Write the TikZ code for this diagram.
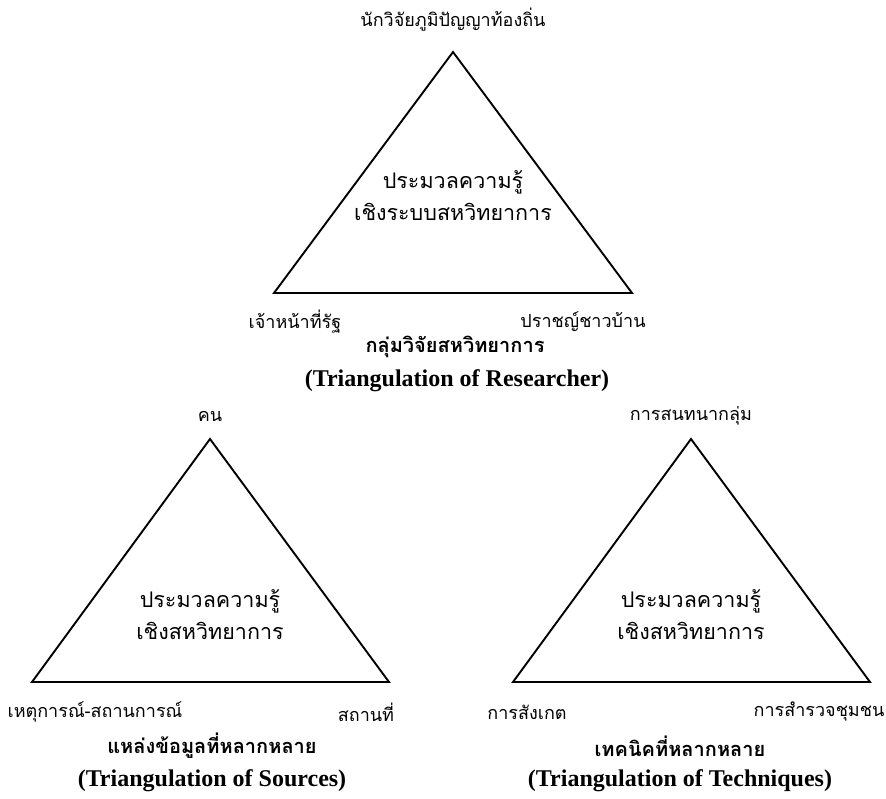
\documentclass[tikz,border=0pt]{standalone}
\usepackage{fontspec}
\setmainfont{Liberation Serif}
\newfontfamily\thaifont[Script=Thai]{Loma}
\usepackage{tikz}

\begin{document}
\begin{tikzpicture}[x=1pt, y=-1pt,
    corner/.style={font=\thaifont\fontsize{18}{22}\selectfont, inner sep=0pt},
    core/.style={font=\thaifont\fontsize{21.5}{32}\selectfont, align=center, inner sep=0pt},
    title/.style={font=\bfseries\fontsize{24}{30}\selectfont, align=center, inner sep=0pt},
    thaititle/.style={font=\thaifont\bfseries\fontsize{20}{24}\selectfont, inner sep=0pt},
    tri/.style={line width=1.9pt, line join=miter}]
    \useasboundingbox (0,0) rectangle (886,798);

    \coordinate (rtop) at (453,52);
    \coordinate (rleft) at (274,293);
    \coordinate (rright) at (632,293);
    \coordinate (stop) at (210,439);
    \coordinate (sleft) at (32,682);
    \coordinate (sright) at (389,682);
    \coordinate (ttop) at (691,439);
    \coordinate (tleft) at (513,682);
    \coordinate (tright) at (870,682);

    \draw[tri] (rtop) -- (rleft) -- (rright) -- cycle;
    \draw[tri] (stop) -- (sleft) -- (sright) -- cycle;
    \draw[tri] (ttop) -- (tleft) -- (tright) -- cycle;

    \node[corner] (rlocal) at (453,20) {นักวิจัยภูมิปัญญาท้องถิ่น};
    \node[corner] (rstate) at (295,322) {เจ้าหน้าที่รัฐ};
    \node[corner] (rsage) at (583,322) {ปราชญ์ชาวบ้าน};
    \node[core] (rcore) at (453,196) {ประมวลความรู้\\เชิงระบบสหวิทยาการ};
    \node[thaititle] (rgroup) at (455,347) {กลุ่มวิจัยสหวิทยาการ};
    \node[title] (rtitle) at (457,381) {(Triangulation of Researcher)};

    \node[corner] (speople) at (210,416) {คน};
    \node[corner] (sevent) at (95,712) {เหตุการณ์-สถานการณ์};
    \node[corner] (splace) at (366,712) {สถานที่};
    \node[core] (score) at (210,615) {ประมวลความรู้\\เชิงสหวิทยาการ};
    \node[thaititle] (sgroup) at (212,746) {แหล่งข้อมูลที่หลากหลาย};
    \node[title] (stitle) at (212,781) {(Triangulation of Sources)};

    \node[corner] (tgroup) at (691,416) {การสนทนากลุ่ม};
    \node[corner] (tobserve) at (527,712) {การสังเกต};
    \node[corner] (tsurvey) at (819,712) {การสำรวจชุมชน};
    \node[core] (tcore) at (691,615) {ประมวลความรู้\\เชิงสหวิทยาการ};
    \node[thaititle] (tgroupt) at (680,746) {เทคนิคที่หลากหลาย};
    \node[title] (ttitle) at (680,781) {(Triangulation of Techniques)};
\end{tikzpicture}
\end{document}
